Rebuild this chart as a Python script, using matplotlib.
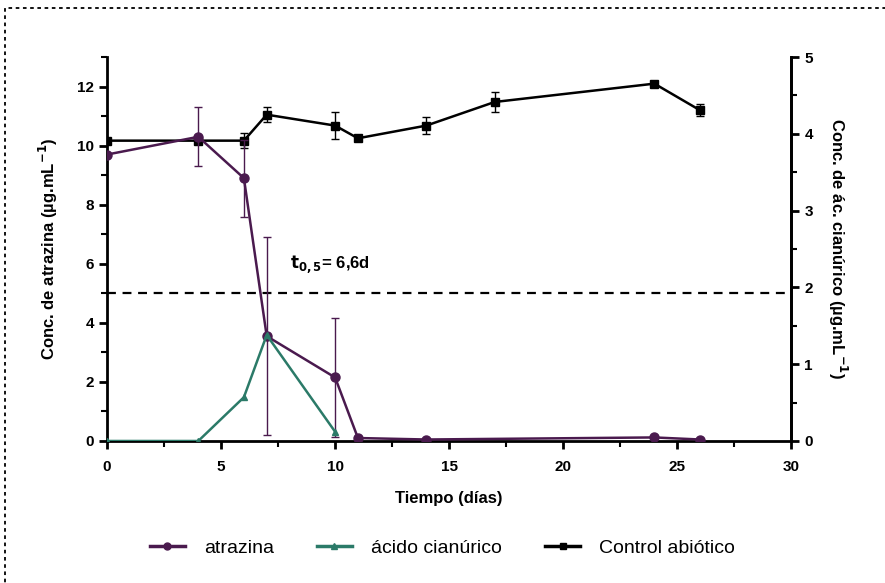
import matplotlib.pyplot as plt
from matplotlib.lines import Line2D
from matplotlib.patches import Rectangle
import numpy as np

plt.rcParams['font.family'] = ['Liberation Sans', 'DejaVu Sans']

# tiempo (días)
t_atz = [0, 4, 6, 7, 10, 11, 14, 24, 26]
atrazina = [9.7, 10.3, 8.9, 3.55, 2.15, 0.1, 0.05, 0.12, 0.05]
atrazina_err = [0, 1.0, 1.3, 3.35, 2.0, 0, 0, 0, 0]

t_cian = [0, 4, 6, 7, 10]
cianurico = [0, 0, 0.57, 1.38, 0.12]

t_ctrl = [0, 4, 6, 7, 10, 11, 14, 17, 24, 26]
control = [10.17, 10.17, 10.17, 11.05, 10.68, 10.25, 10.68, 11.48, 12.1, 11.2]
control_err = [0, 0, 0.25, 0.25, 0.45, 0, 0.3, 0.35, 0, 0.2]

purple = '#4a1a4e'
teal = '#2b7a68'

fig = plt.figure(figsize=(8.85, 5.83), dpi=100)
ax = fig.add_axes([0.121, 0.2436, 0.773, 0.6585])
ax2 = ax.twinx()

ax.errorbar(t_ctrl, control, yerr=control_err, color='black', marker='s', ms=6,
            lw=1.8, elinewidth=1.0, capsize=3, zorder=3)
ax.errorbar(t_atz, atrazina, yerr=atrazina_err, color=purple, marker='o', ms=6.5,
            lw=1.8, elinewidth=1.0, capsize=3, zorder=4)
ax2.plot(t_cian, cianurico, color=teal, marker='^', ms=5, lw=1.8, zorder=3)

ax.axhline(5, color='black', ls=(0, (4, 3)), lw=1.6, zorder=2)
ax.text(8.0, 6.0, r'$\mathbf{t_{0,5}}$= 6,6d', fontsize=12, fontweight='bold',
        ha='left', va='center')

ax.set_xlim(0, 30)
ax.set_ylim(0, 13)
ax2.set_ylim(0, 5)
ax.set_xticks(np.arange(0, 31, 5))
ax.set_xticks(np.arange(0, 30.1, 2.5), minor=True)
ax.set_yticks(np.arange(0, 13, 2))
ax.set_yticks(np.arange(0, 13.1, 1), minor=True)
ax2.set_yticks(np.arange(0, 6, 1))
ax2.set_yticks(np.arange(0, 5.1, 0.5), minor=True)

for a in (ax, ax2):
    a.spines['top'].set_visible(False)
    for s in a.spines.values():
        s.set_linewidth(2)
    a.tick_params(which='major', length=6, width=2, labelsize=11, direction='out')
    a.tick_params(which='minor', length=4, width=1.5, direction='out')
    for lbl in a.get_xticklabels() + a.get_yticklabels():
        lbl.set_fontweight('bold')
ax2.spines['left'].set_visible(False)
ax2.spines['bottom'].set_visible(False)
ax.tick_params(axis='x', pad=8)

ax.set_xlabel('Tiempo (días)', fontsize=12, fontweight='bold', labelpad=12)
ax.set_ylabel('Conc. de atrazina (µg.mL$^{\\mathbf{-1}}$)', fontsize=12,
              fontweight='bold', labelpad=12)
ax2.set_ylabel('Conc. de ác. cianúrico (µg.mL$^{\\mathbf{-1}}$)', fontsize=12,
               fontweight='bold', rotation=-90, labelpad=26)

handles = [
    Line2D([], [], color=purple, marker='o', ms=5, lw=2.5),
    Line2D([], [], color=teal, marker='^', ms=5, lw=2.5),
    Line2D([], [], color='black', marker='s', ms=5, lw=2.5),
]
fig.legend(handles, ['atrazina', 'ácido cianúrico', 'Control abiótico'],
           loc='center', bbox_to_anchor=(0.5, 0.06), ncol=3, frameon=False,
           fontsize=14, handlelength=1.8, columnspacing=2.2, handletextpad=1.0)

# marco punteado
fig.patches.append(Rectangle((0.006, -0.05), 1.1, 1.036, transform=fig.transFigure,
                             fill=False, ls=(0, (2, 2)), lw=1.3, color='black'))

fig.savefig('out.png', dpi=100)
